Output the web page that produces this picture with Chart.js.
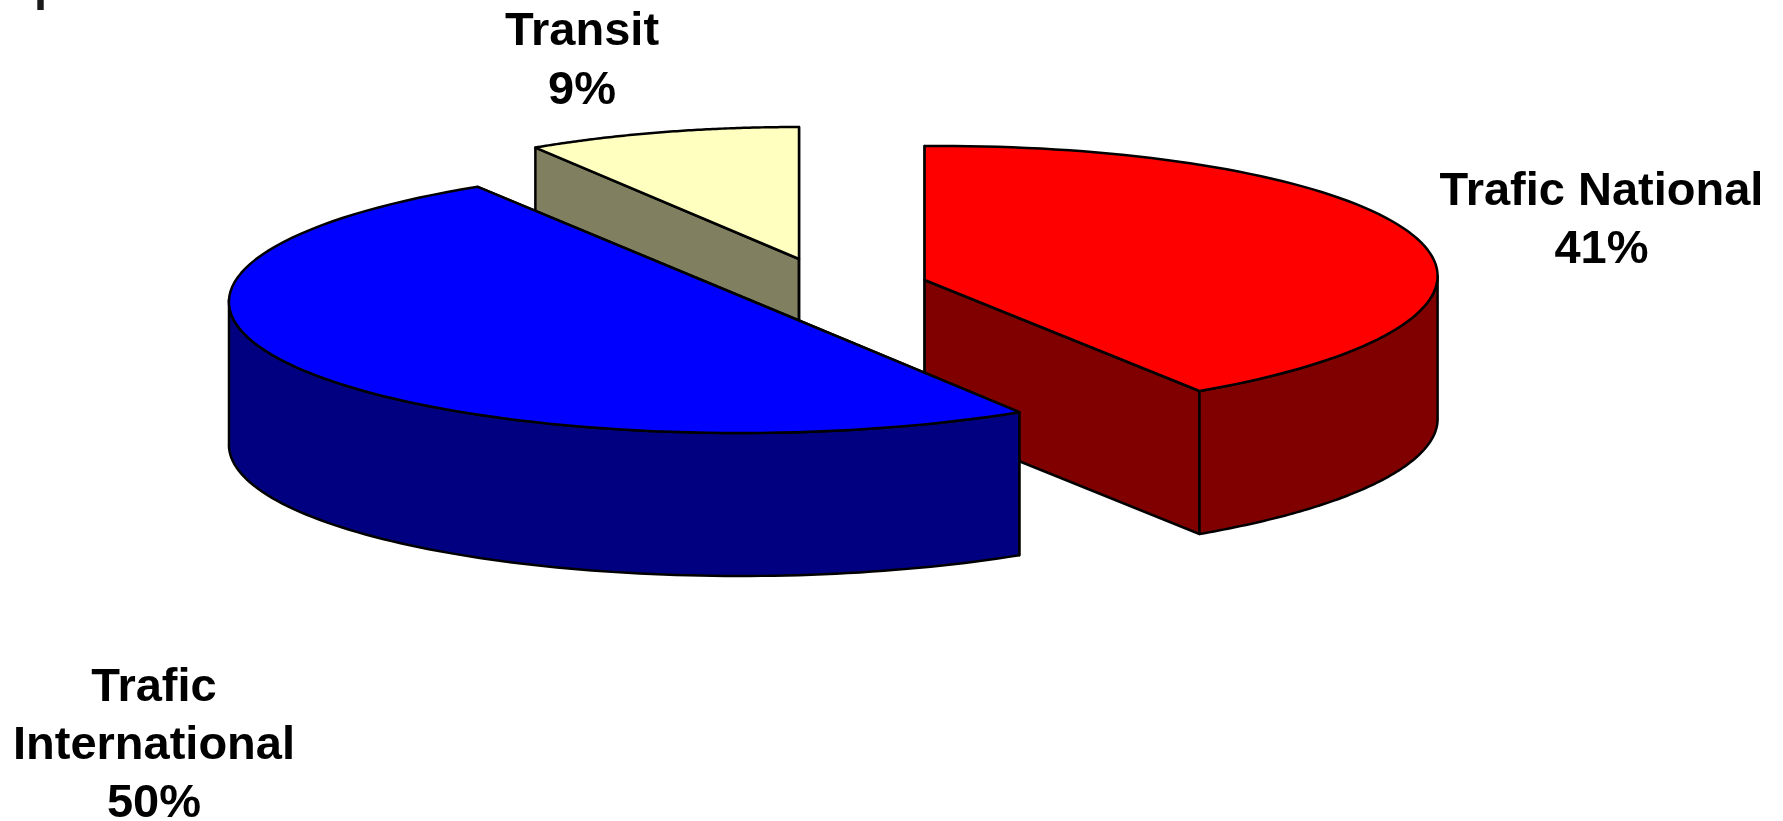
<!DOCTYPE html>
<html>
<head>
<meta charset="utf-8">
<title>Trafic</title>
<script src="https://cdn.jsdelivr.net/npm/chart.js@4/dist/chart.umd.min.js"></script>
<style>
  html, body { margin: 0; padding: 0; background: #fff; overflow: hidden; }
  canvas { display: block; }
</style>
</head>
<body>
<canvas id="pie" width="1783" height="821"></canvas>
<script>
const categories = ["Trafic National", "Trafic International", "Transit"];
const values = [41, 50, 9];
const topColors = ["#ff0000", "#0000ff", "#ffffc0"];
const wallColors = ["#800000", "#000080", "#808060"];

// where each exploded slice sits on the page (3d pie look)
const slices = [
  { cx: 924.6, cy: 280, rx: 513, ry: 134, shear: 0, tilt: -4 },
  { cx: 748.5, cy: 299.5, rx: 519.5, ry: 133.5, shear: -9, tilt: 0 },
  { cx: 799, cy: 259, rx: 492, ry: 132, shear: 0, tilt: 0 }
];
const depth = 143;
const drawOrder = [2, 0, 1];

// label lines and baselines
const labelSpots = [
  { x: 1601.5, y: [205, 263], lines: ["Trafic National"] },
  { x: 154, y: [701, 759, 817], lines: ["Trafic", "International"] },
  { x: 582, y: [45, 104], lines: ["Transit"] }
];
const labelFont = "bold 47px 'Liberation Sans', Arial, sans-serif";

function pt(s, angle, down) {
  const ux = Math.cos(angle), uy = Math.sin(angle);
  return [s.cx + s.rx * ux + s.shear * uy, s.cy + s.ry * uy + s.tilt * ux + (down || 0)];
}

function arcPoints(s, a0, a1, down) {
  const pts = [];
  const n = 90;
  for (let i = 0; i <= n; i++) {
    pts.push(pt(s, a0 + (a1 - a0) * i / n, down));
  }
  return pts;
}

function poly(ctx, pts, fill, close) {
  ctx.beginPath();
  pts.forEach(function (p, i) {
    if (i === 0) ctx.moveTo(p[0], p[1]);
    else ctx.lineTo(p[0], p[1]);
  });
  if (close) ctx.closePath();
  if (fill) {
    ctx.fillStyle = fill;
    ctx.fill();
  }
  ctx.stroke();
}

const pie3d = {
  id: "pie3d",
  beforeDatasetsDraw(chart) {
    const ctx = chart.ctx;
    const arcs = chart.getDatasetMeta(0).data;
    ctx.save();
    ctx.lineWidth = 2.5;
    ctx.strokeStyle = "#000";
    ctx.lineJoin = "round";
    drawOrder.forEach(function (i) {
      const el = arcs[i];
      const s = slices[i];
      const center = [s.cx, s.cy];
      const centerLow = [s.cx, s.cy + depth];

      // the two flat cut faces
      [el.startAngle, el.endAngle].forEach(function (a) {
        poly(ctx, [center, pt(s, a), pt(s, a, depth), centerLow], wallColors[i], true);
      });

      // outer wall, only the front half of the rim shows
      const a0 = Math.max(el.startAngle, 0);
      const a1 = Math.min(el.endAngle, Math.PI);
      if (a1 > a0) {
        const wall = arcPoints(s, a0, a1, 0).concat(arcPoints(s, a1, a0, depth));
        poly(ctx, wall, wallColors[i], true);
      }

      // top face, the library's own arc squashed onto the slice
      const r = el.outerRadius;
      ctx.save();
      ctx.transform(s.rx / r, s.tilt / r, s.shear / r, s.ry / r, s.cx, s.cy);
      ctx.translate(-el.x, -el.y);
      el.draw(ctx);
      ctx.restore();
      poly(ctx, [center].concat(arcPoints(s, el.startAngle, el.endAngle)), null, true);
    });
    ctx.restore();
    return false;
  },
  afterDraw(chart) {
    const ctx = chart.ctx;
    ctx.save();
    ctx.font = labelFont;
    ctx.fillStyle = "#000";
    ctx.textAlign = "center";
    ctx.textBaseline = "alphabetic";
    labelSpots.forEach(function (spot, i) {
      const lines = spot.lines.concat([values[i] + "%"]);
      lines.forEach(function (line, j) {
        ctx.fillText(line, spot.x, spot.y[j]);
      });
    });
    // bottom of a cut off title letter at the very top of the picture
    ctx.textAlign = "left";
    ctx.fillStyle = "#1a1a1a";
    ctx.fillText("p", 34, 0);
    ctx.restore();
  }
};

new Chart(document.getElementById("pie").getContext("2d"), {
  type: "pie",
  data: {
    labels: categories,
    datasets: [{
      data: values,
      backgroundColor: topColors,
      borderWidth: 0
    }]
  },
  options: {
    responsive: false,
    animation: false,
    plugins: {
      legend: { display: false },
      tooltip: { enabled: false }
    }
  },
  plugins: [pie3d]
});
</script>
</body>
</html>
